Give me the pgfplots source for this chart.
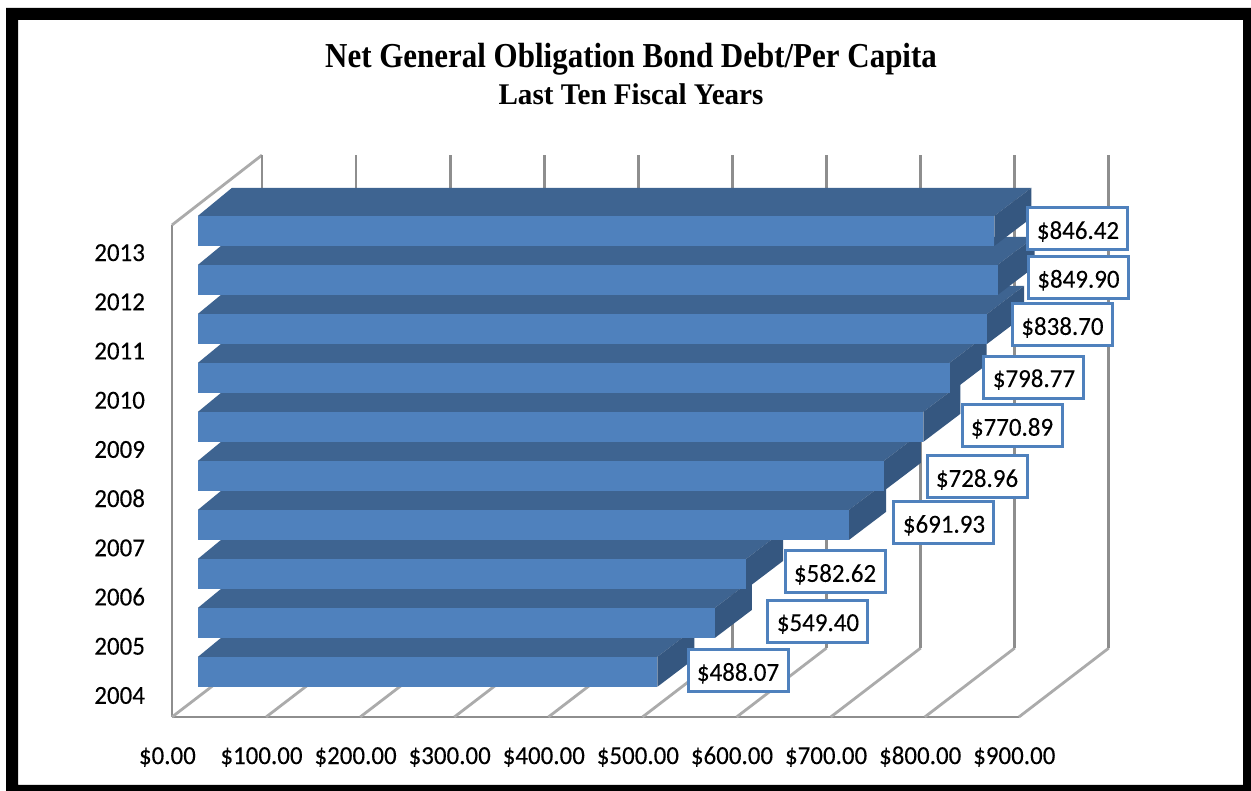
\documentclass[border=0pt]{standalone}
\usepackage{pgfplots}
\pgfplotsset{compat=1.18}
\usepackage{fontspec}
\setmainfont{Carlito}[FakeStretch=0.96,FakeBold=0.12]
\newfontfamily\titlefont{Liberation Serif}
\definecolor{barfront}{HTML}{4F81BD}
\definecolor{bartop}{HTML}{3E6491}
\definecolor{barside}{HTML}{355780}
\definecolor{gridgray}{HTML}{8E8E8E}
\definecolor{floorgray}{HTML}{ABABAB}
% One 3D bar: value, value+depth, bottom, top, top+depth, bottom+depth
\newcommand{\threedbar}[6]{%
  \addplot[fill=bartop,draw=none,forget plot,xshift=13pt] coordinates {(0,#4) (#1,#4) (#2,#5) (36.13,#5)} --cycle;
  \addplot[fill=barside,draw=none,forget plot,xshift=13pt] coordinates {(#1,#3) (#1,#4) (#2,#5) (#2,#6)} --cycle;
  \addplot[fill=barfront,draw=none,forget plot,xshift=13pt] coordinates {(0,#3) (#1,#3) (#1,#4) (0,#4)} --cycle;
}
% One wall grid line: floor diagonal and back-wall vertical
\newcommand{\wallline}[2]{%
  \addplot[floorgray,line width=1.4pt,forget plot] coordinates {(#1,-0.43) (#2,0.972)};
  \addplot[gridgray,line width=1.4pt,forget plot] coordinates {(#2,0.972) (#2,10.99)};
}
\tikzset{valuebox/.style={draw=barfront,line width=1.5pt,fill=white,minimum width=50pt,minimum height=21pt,inner sep=0pt,text height=12pt,text depth=2pt,font=\fontsize{13}{15}\selectfont}}
\begin{document}
\begin{tikzpicture}
\useasboundingbox (0,0) rectangle (625.5pt,395.5pt);
\fill[white] (0,0) rectangle (625.5pt,395.5pt);
\fill[black,even odd rule] (3pt,0pt) rectangle (625.5pt,391.5pt) (9pt,3pt) rectangle (621.5pt,385.5pt);
\begin{axis}[
  at={(86pt,37pt)},anchor=south west,
  scale only axis,width=423.45pt,height=246pt,
  xmin=0,xmax=900,ymin=-0.43,ymax=9.57,
  clip=false,
  axis x line*=bottom,axis y line*=left,
  axis line style={gridgray,line width=1.4pt,-},
  major tick length=0pt,
  typeset ticklabels with strut,
  xtick={0,100,...,900},
  xticklabels={\$0.00,\$100.00,\$200.00,\$300.00,\$400.00,\$500.00,\$600.00,\$700.00,\$800.00,\$900.00},
  ytick={0,1,...,9},
  yticklabels={2004,2005,2006,2007,2008,2009,2010,2011,2012,2013},
  x tick label style={font=\fontsize{13}{15}\selectfont,xshift=-2.3pt,yshift=-9.5pt},
  y tick label style={font=\fontsize{13}{15}\selectfont,xshift=-10pt,yshift=-1pt},
]
% left wall top edge and floor lines
\addplot[floorgray,line width=1.4pt,forget plot] coordinates {(0,9.57) (95.6,10.99)};
\wallline{0}{95.6}
\wallline{100}{195.6}
\wallline{200}{295.6}
\wallline{300}{395.6}
\wallline{400}{495.6}
\wallline{500}{595.6}
\wallline{600}{695.6}
\wallline{700}{795.6}
\wallline{800}{895.6}
\wallline{900}{995.6}
% bars, 2004 up to 2013
\threedbar{488.07}{527.37}{0.183}{0.793}{1.362}{0.752}
\threedbar{549.40}{588.70}{1.179}{1.789}{2.358}{1.748}
\threedbar{582.62}{621.92}{2.175}{2.785}{3.354}{2.744}
\threedbar{691.93}{731.23}{3.171}{3.781}{4.350}{3.740}
\threedbar{728.96}{768.26}{4.167}{4.777}{5.346}{4.736}
\threedbar{770.89}{810.19}{5.163}{5.773}{6.342}{5.732}
\threedbar{798.77}{838.07}{6.159}{6.769}{7.338}{6.728}
\threedbar{838.70}{878.00}{7.155}{7.765}{8.334}{7.724}
\threedbar{849.90}{889.20}{8.151}{8.761}{9.330}{8.720}
\threedbar{846.42}{885.72}{9.147}{9.757}{10.326}{9.716}
% value labels
\node[valuebox] at (axis cs:601.5,0.51) {\$488.07};
\node[valuebox] at (axis cs:686.5,1.52) {\$549.40};
\node[valuebox] at (axis cs:704.6,2.52) {\$582.62};
\node[valuebox] at (axis cs:820.4,3.52) {\$691.93};
\node[valuebox] at (axis cs:855.5,4.45) {\$728.96};
\node[valuebox] at (axis cs:892.7,5.49) {\$770.89};
\node[valuebox] at (axis cs:916,6.48) {\$798.77};
\node[valuebox] at (axis cs:946.3,7.54) {\$838.70};
\node[valuebox] at (axis cs:963.3,8.50) {\$849.90};
\node[valuebox] at (axis cs:962.8,9.49) {\$846.42};
\end{axis}
\node[font=\titlefont\bfseries\fontsize{17.5}{19}\selectfont] at (315.5pt,366pt) {\scalebox{0.885}[1]{Net General Obligation Bond Debt/Per Capita}};
\node[font=\titlefont\bfseries\fontsize{15}{16}\selectfont] at (315.5pt,348.5pt) {\scalebox{0.97}[1]{Last Ten Fiscal Years}};
\end{tikzpicture}
\end{document}
